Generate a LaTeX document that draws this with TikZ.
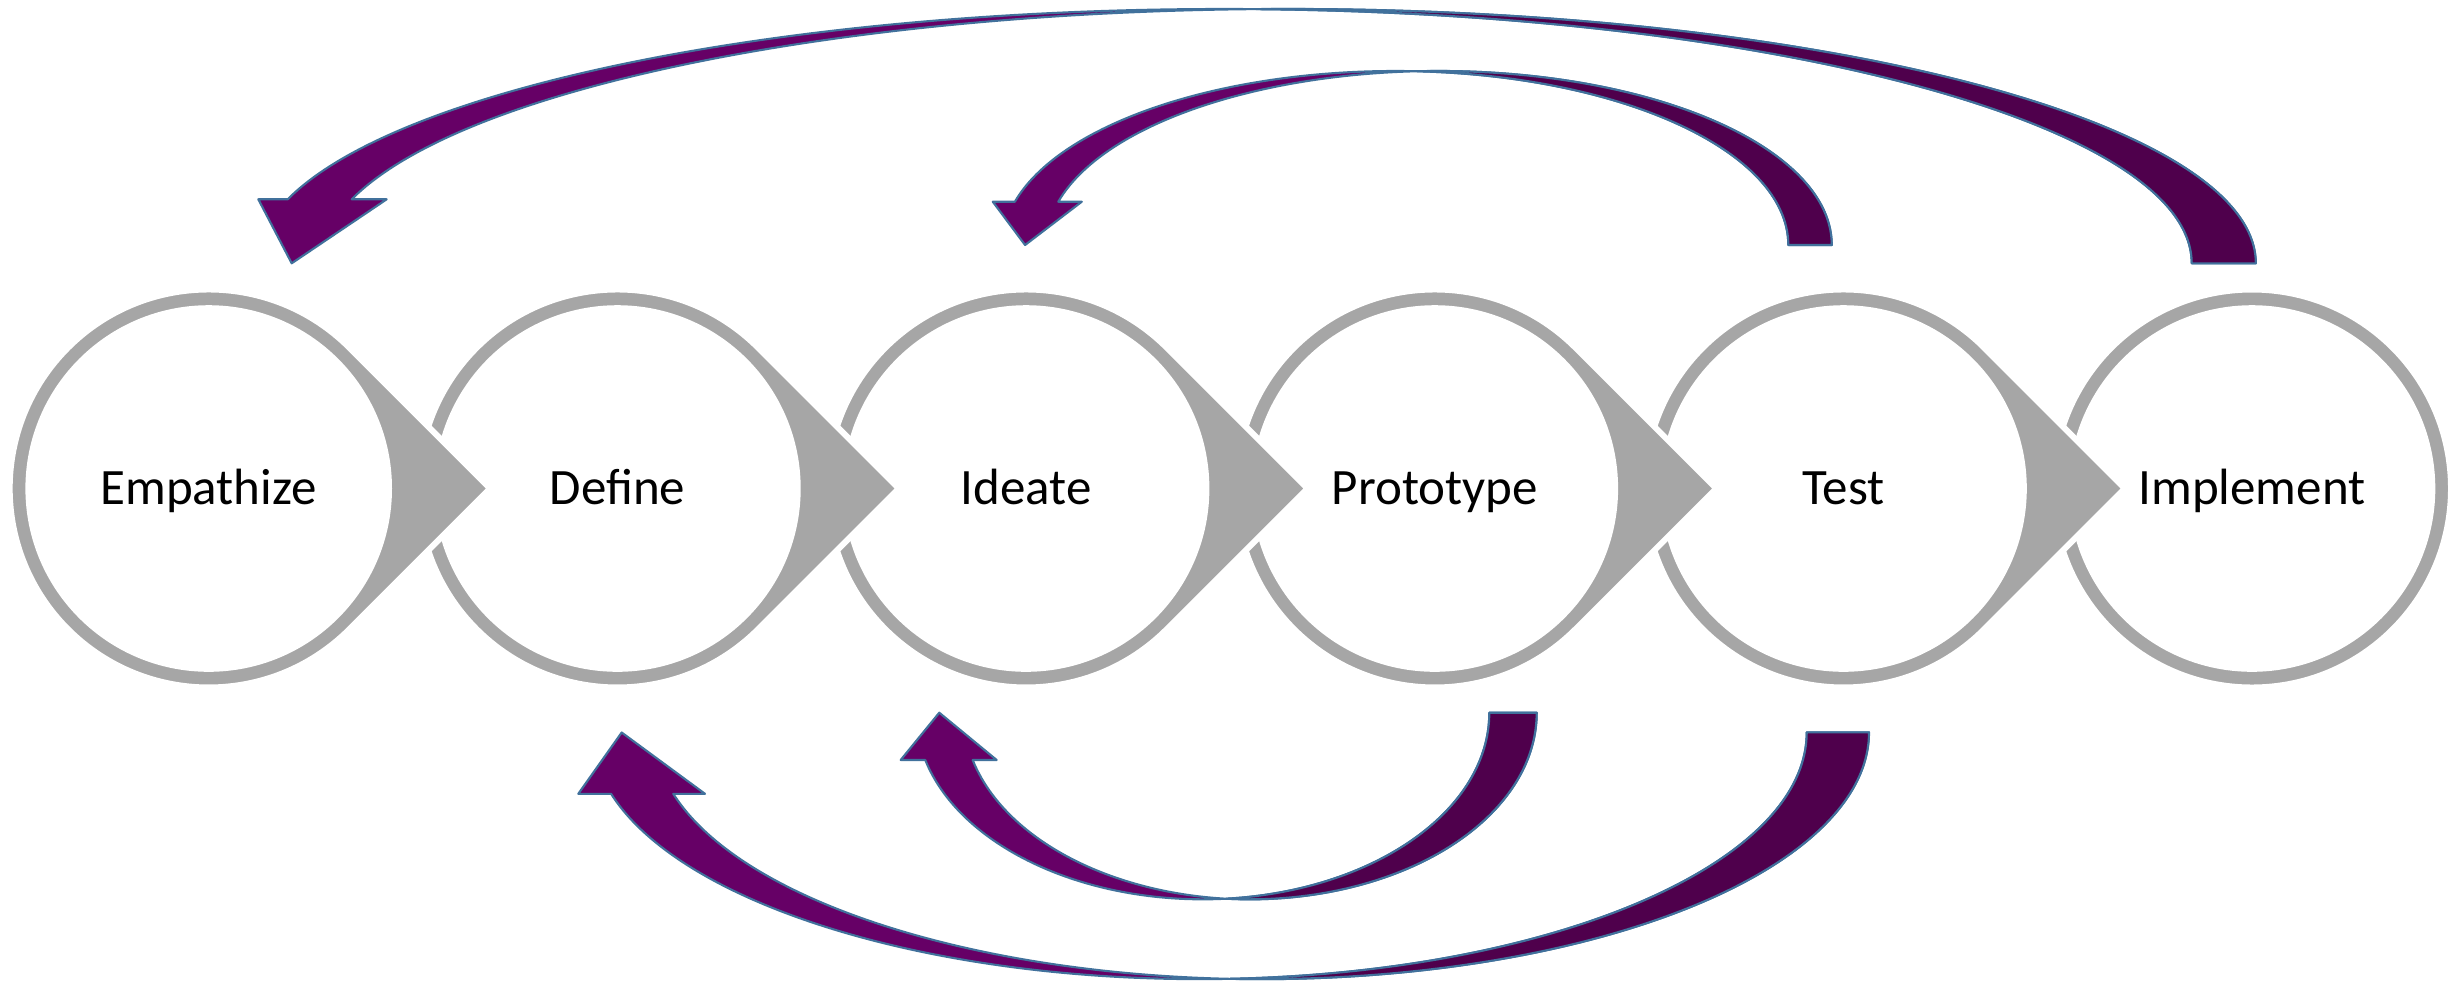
\documentclass[tikz,border=0pt]{standalone}
\usepackage{fontspec}
\setmainfont{Carlito}
\usepackage{tikz}
\usepackage{xcolor}
\usetikzlibrary{calc}

\definecolor{ringgrey}{HTML}{A6A6A6}
\definecolor{plum}{HTML}{660066}
\definecolor{plumdark}{HTML}{4F004C}
\definecolor{steel}{HTML}{41719C}

\begin{document}
\begin{tikzpicture}[x=0.01cm,y=-0.01cm,
  ring/.style={fill=ringgrey,draw=white,line width=1.7pt,line join=miter},
  stage/.style={font=\fontsize{14.5}{17}\selectfont,text height=9.3pt,text depth=0pt,inner sep=0pt},
  band/.style={fill=plum,draw=steel,line width=0.6pt,line join=round},
  shade/.style={band,fill=plumdark}]
\useasboundingbox (0,0) rectangle (2448,984);

% last ring has no tip
\draw[ring] (2252,488.5) circle[radius=199];
\fill[white] (2252,488.5) circle[radius=183.3];

% rings, right to left so each tip lies over the next ring
\foreach \cx in {1843.5,1434.8,1026.1,617.4,208.7}{
  \draw[ring] (\cx,488.5) ++(-45:199) -- ++(140.7,140.7) -- ++(-140.7,140.7) arc[start angle=45,end angle=315,radius=199] -- cycle;
  \fill[white] (\cx,488.5) circle[radius=183.3];
}

\node[stage] (emp) at (208.7,488.5) {Empathize};
\node[stage] (def) at (617.4,488.5) {Define};
\node[stage] (ide) at (1026.1,488.5) {Ideate};
\node[stage] (pro) at (1434.8,488.5) {Prototype};
\node[stage] (tst) at (1843.5,488.5) {Test};
\node[stage] (imp) at (2252,488.5) {Implement};

% Implement back to Empathize
\draw[band] ($(imp)+(-60.3,-225.2)$) arc[start angle=0,end angle=-165.42,x radius=967.6,y radius=254.3] -- ++(-29.4,0) -- ++(33.4,64) -- ++(95,-64) -- ++(-35,0) arc[start angle=194.58,end angle=360,x radius=967.6,y radius=254.3] -- cycle;
\draw[shade] ($(imp)+(-60.3,-225.2)$) arc[start angle=0,end angle=-88.1,x radius=967.6,y radius=254.3] arc[start angle=268.1,end angle=360,x radius=967.6,y radius=254.3] -- cycle;

% Test back to Ideate
\draw[band] ($(tst)+(-55.2,-243.5)$) arc[start angle=0,end angle=-165.59,x radius=392.9,y radius=174] -- ++(-22.1,0) -- ++(32.3,43.3) -- ++(56.7,-43.3) -- ++(-23.5,0) arc[start angle=194.41,end angle=360,x radius=392.9,y radius=174] -- cycle;
\draw[shade] ($(tst)+(-55.2,-243.5)$) arc[start angle=0,end angle=-86.83,x radius=392.9,y radius=174] arc[start angle=266.83,end angle=360,x radius=392.9,y radius=174] -- cycle;

% Prototype back to Ideate
\draw[band] ($(pro)+(54.5,224.2)$) arc[start angle=0,end angle=165.32,x radius=286.7,y radius=186.6] -- ++(-24.6,0) -- ++(38.6,-47.3) -- ++(57.4,47.3) -- ++(-24,0) arc[start angle=165.32,end angle=0,x radius=286.7,y radius=186.6] -- cycle;
\draw[shade] ($(pro)+(54.5,224.2)$) arc[start angle=0,end angle=85.26,x radius=286.7,y radius=186.6] arc[start angle=94.74,end angle=0,x radius=286.7,y radius=186.6] -- cycle;

% Test back to Define
\draw[band] ($(tst)+(-36.8,243.8)$) arc[start angle=0,end angle=165.57,x radius=607.4,y radius=246.8] -- ++(-32.8,0) -- ++(43.4,-61.3) -- ++(83.3,61.3) -- ++(-31.7,0) arc[start angle=165.57,end angle=0,x radius=607.4,y radius=246.8] -- cycle;
\draw[shade] ($(tst)+(-36.8,243.8)$) arc[start angle=0,end angle=87.06,x radius=607.4,y radius=246.8] arc[start angle=92.94,end angle=0,x radius=607.4,y radius=246.8] -- cycle;

\end{tikzpicture}
\end{document}
